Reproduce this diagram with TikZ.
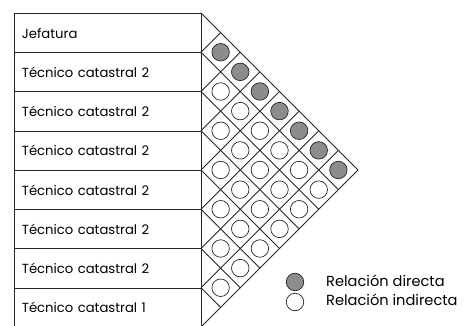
\documentclass[tikz,border=0pt]{standalone}
\usepackage{fontspec}
\setmainfont{Poppins}
\definecolor{linec}{gray}{0.15}
\definecolor{fillc}{gray}{0.55}
\begin{document}
\begin{tikzpicture}[x=1pt,y=-1pt,
  rowbox/.style={draw=linec, line width=0.8pt, anchor=north west, minimum width=187pt, text width=172pt, inner sep=7.5pt, minimum height=39.25pt, align=left, font=\fontsize{13.2}{15}\selectfont},
  grid/.style={draw=linec, line width=0.8pt},
  relcirc/.style={circle, draw=linec, line width=0.7pt, minimum size=17.5pt, inner sep=0pt},
  direct/.style={relcirc, fill=fillc},
  indirect/.style={relcirc, fill=white},
  legtext/.style={anchor=west, font=\fontsize{14.6}{16}\selectfont, inner sep=0pt}]
\useasboundingbox (0,0) rectangle (472,326);
\def\H{39.25}
\def\T{13}
\def\X{201}
\pgfmathsetmacro\B{\T+8*\H}
% rows
\foreach \i/\t in {0/Jefatura,1/Técnico catastral 2,2/Técnico catastral 2,3/Técnico catastral 2,4/Técnico catastral 2,5/Técnico catastral 2,6/Técnico catastral 2,7/Técnico catastral 1}{
  \node[rowbox] (r\i) at (14,{\T+\H*\i}) {\t};
}
% grid lines
\foreach \k in {0,...,8}{
  \pgfmathsetmacro\bk{\T+\H*\k}
  \draw[grid] (\X,\bk) -- ({\X+(\B-\bk)/2},{(\bk+\B)/2});
  \draw[grid] (\X,\bk) -- ({\X+(\bk-\T)/2},{(\T+\bk)/2});
}
% circles
\foreach \i in {0,...,6}{
  \pgfmathtruncatemacro\s{\i+1}
  \foreach \j in {\s,...,7}{
    \pgfmathtruncatemacro\d{\j-\i}
    \ifnum\i=0
      \node[direct] (c\i\j) at ({\X+\d*\H/2},{\T+\H*(\i+\j+1)/2}) {};
    \else
      \node[indirect] (c\i\j) at ({\X+\d*\H/2},{\T+\H*(\i+\j+1)/2}) {};
    \fi
  }
}
% legend
\node[direct] (ld) at (295,282) {};
\node[indirect] (li) at (295,302) {};
\node[legtext] (ldt) at (326,281) {Relación directa};
\node[legtext] (lit) at (326,300) {Relación indirecta};
\end{tikzpicture}
\end{document}
